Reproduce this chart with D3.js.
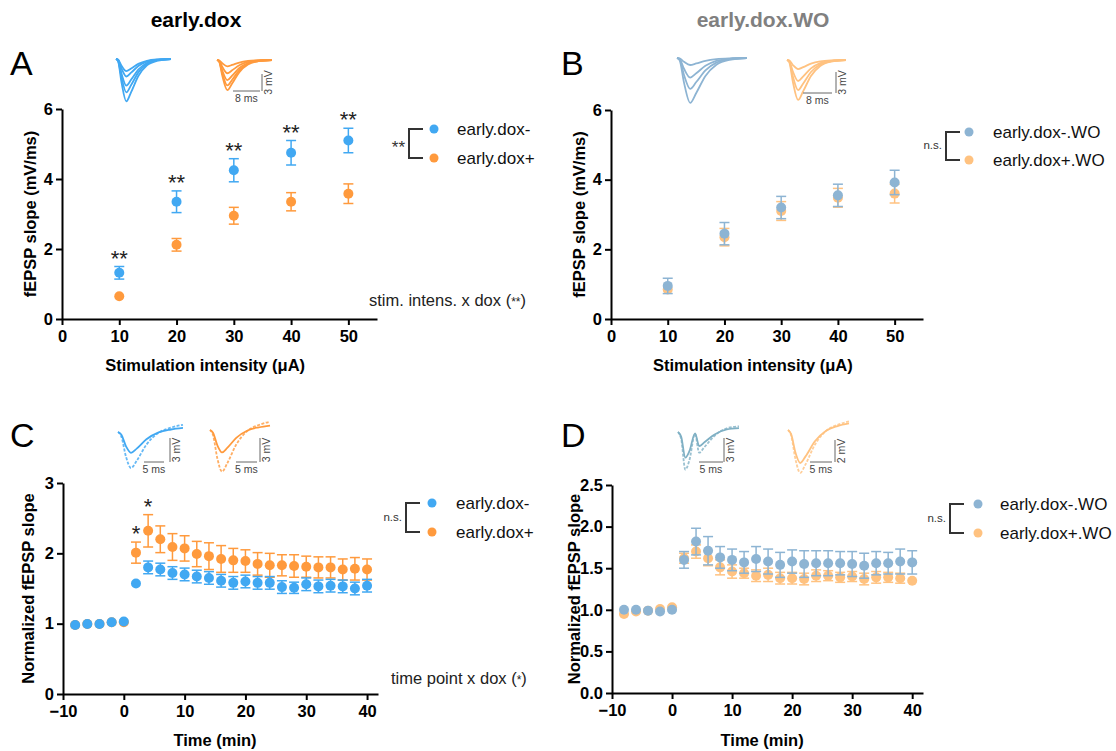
<!DOCTYPE html>
<html lang="en">
<head>
<meta charset="utf-8">
<script src="https://cdn.jsdelivr.net/npm/d3@7"></script>
<style>
  body { margin: 0; background: #fff; }
  text { font-family: "Liberation Sans", Arial, Helvetica, sans-serif; }
</style>
</head>
<body>
<script>
// ---- data ----
const intensity = [10, 20, 30, 40, 50];
const aMinus    = [1.32, 3.35, 4.25, 4.75, 5.10];
const aMinusErr = [0.18, 0.31, 0.33, 0.35, 0.35];
const aPlus     = [0.65, 2.12, 2.95, 3.35, 3.58];
const aPlusErr  = [0.04, 0.18, 0.24, 0.26, 0.28];
const aStars    = ["**", "**", "**", "**", "**"];

const bMinus    = [0.95, 2.45, 3.20, 3.55, 3.92];
const bMinusErr = [0.22, 0.32, 0.32, 0.32, 0.35];
const bPlus     = [0.85, 2.35, 3.10, 3.48, 3.60];
const bPlusErr  = [0.12, 0.25, 0.27, 0.27, 0.27];

const time = [-8, -6, -4, -2, 0, 2, 4, 6, 8, 10, 12, 14, 16, 18, 20, 22, 24, 26, 28, 30, 32, 34, 36, 38, 40];
const cMinus    = [0.98, 0.995, 0.995, 1.02, 1.03, 1.57, 1.80, 1.77, 1.72, 1.70, 1.67, 1.65, 1.61, 1.58, 1.60, 1.58, 1.58, 1.52, 1.51, 1.56, 1.53, 1.54, 1.53, 1.50, 1.54];
const cMinusErr = [0.02, 0.02, 0.02, 0.02, 0.02, 0.03, 0.09, 0.09, 0.09, 0.09, 0.09, 0.09, 0.09, 0.09, 0.09, 0.09, 0.09, 0.09, 0.08, 0.09, 0.09, 0.09, 0.09, 0.09, 0.09];
const cPlus     = [0.98, 0.995, 0.995, 1.02, 1.02, 2.01, 2.32, 2.20, 2.09, 2.07, 1.99, 1.96, 1.92, 1.90, 1.89, 1.85, 1.83, 1.83, 1.82, 1.81, 1.80, 1.80, 1.77, 1.78, 1.77];
const cPlusErr  = [0.02, 0.02, 0.02, 0.02, 0.02, 0.15, 0.23, 0.19, 0.19, 0.18, 0.18, 0.19, 0.19, 0.17, 0.16, 0.16, 0.17, 0.15, 0.16, 0.15, 0.15, 0.15, 0.15, 0.16, 0.15];
const cStars    = ["", "", "", "", "", "*", "*", "", "", "", "", "", "", "", "", "", "", "", "", "", "", "", "", "", ""];

const dMinus    = [1.00, 1.00, 0.99, 0.98, 1.00, 1.60, 1.82, 1.71, 1.63, 1.60, 1.57, 1.61, 1.58, 1.54, 1.58, 1.55, 1.56, 1.56, 1.56, 1.55, 1.53, 1.56, 1.56, 1.58, 1.57];
const dMinusErr = [0.02, 0.02, 0.02, 0.02, 0.02, 0.10, 0.16, 0.17, 0.13, 0.13, 0.13, 0.15, 0.15, 0.15, 0.14, 0.16, 0.15, 0.15, 0.14, 0.15, 0.15, 0.14, 0.13, 0.15, 0.14];
const dPlus     = [0.95, 0.98, 0.99, 1.01, 1.03, 1.62, 1.70, 1.62, 1.51, 1.46, 1.44, 1.41, 1.42, 1.38, 1.38, 1.37, 1.41, 1.41, 1.39, 1.40, 1.37, 1.39, 1.39, 1.38, 1.35];
const dPlusErr  = [0.02, 0.02, 0.02, 0.02, 0.02, 0.06, 0.08, 0.09, 0.09, 0.08, 0.06, 0.07, 0.08, 0.07, 0.07, 0.07, 0.07, 0.06, 0.06, 0.06, 0.07, 0.07, 0.06, 0.06, 0.05];

// example traces: [ms, fraction of peak amplitude (downward)]
const shapeInOut = [[0, 0], [0.6, 0.05], [1.6, 0.55], [3.0, 1], [4.4, 0.78], [6.5, 0.4], [9, 0.15], [12, 0.04], [16, 0]];
const shapeLtp   = [[0, 0], [0.8, 0.12], [2, 0.7], [3.2, 1], [4.6, 0.8], [7, 0.35], [10, 0.02], [13, -0.12], [16, -0.2]];
const shapeVolley = [[0, 0], [0.8, 0.2], [1.8, 1], [2.8, 0.75], [4.2, 0.05], [5.2, 0.55], [6.5, 0.4], [9, 0.1], [12, -0.1], [15, -0.15]];

const blue = "#41a8f2", orange = "#ff9a3d";
const blueWO = "#8db4d3", orangeWO = "#ffc280";

let w = 1116, h = 751;
let svg = d3.select("body").append("svg").attr("width", w).attr("height", h);

// ---- headings ----
svg.append("text").attr("x", 196).attr("y", 27).attr("text-anchor", "middle")
  .attr("font-size", 21).attr("font-weight", "bold").text("early.dox");
svg.append("text").attr("x", 763).attr("y", 27).attr("text-anchor", "middle")
  .attr("font-size", 21).attr("font-weight", "bold").attr("fill", "#808080").text("early.dox.WO");

[["A", 10, 75], ["B", 561, 75], ["C", 10, 447], ["D", 561, 447]].forEach(d => {
  svg.append("text").attr("x", d[1]).attr("y", d[2]).attr("font-size", 34).text(d[0]);
});

function drawPanel(p) {
  let x = d3.scaleLinear().domain(p.xDomain).range(p.xRange);
  let y = d3.scaleLinear().domain(p.yDomain).range(p.yRange);
  let g = svg.append("g");

  let xa = g.append("g").attr("transform", `translate(0,${p.yRange[0]})`)
    .call(d3.axisBottom(x).tickValues(p.xTicks).tickSize(6).tickSizeOuter(0).tickPadding(5));
  let ya = g.append("g").attr("transform", `translate(${p.xRange[0]},0)`)
    .call(d3.axisLeft(y).tickValues(p.yTicks).tickSize(6).tickSizeOuter(0).tickPadding(3)
      .tickFormat(p.yFormat || d3.format("d")));
  [xa, ya].forEach(a => {
    a.selectAll("path,line").attr("stroke", "#000").attr("stroke-width", 2);
    a.selectAll("text").attr("font-size", 16.5).attr("font-weight", "bold").attr("fill", "#000")
      .style("font-family", '"Liberation Sans", Arial, sans-serif');
  });

  p.series.forEach(s => {
    let sg = g.append("g");
    s.values.forEach((v, i) => {
      let cx = x(p.xValues[i]), e = s.err[i];
      if (y(v - e) - y(v + e) > 9) {
        sg.append("line").attr("x1", cx).attr("x2", cx).attr("y1", y(v - e)).attr("y2", y(v + e))
          .attr("stroke", s.color).attr("stroke-width", 1.5);
        [v - e, v + e].forEach(t => sg.append("line").attr("x1", cx - 5).attr("x2", cx + 5)
          .attr("y1", y(t)).attr("y2", y(t)).attr("stroke", s.color).attr("stroke-width", 1.5));
      }
    });
    sg.selectAll("circle").data(s.values).enter().append("circle")
      .attr("cx", (d, i) => x(p.xValues[i])).attr("cy", d => y(d)).attr("r", 5).attr("fill", s.color);
    if (s.stars) {
      s.values.forEach((v, i) => {
        if (!s.stars[i]) return;
        sg.append("text").attr("x", x(p.xValues[i])).attr("y", y(v + s.err[i]) - 1)
          .attr("text-anchor", "middle").attr("font-size", 22).attr("fill", "#222").text(s.stars[i]);
      });
    }
  });

  g.append("text").attr("transform", `translate(${p.yTitleX},${(p.yRange[0] + p.yRange[1]) / 2}) rotate(-90)`)
    .attr("text-anchor", "middle").attr("font-size", 16.5).attr("font-weight", "bold").text(p.yTitle);
  g.append("text").attr("x", (p.xRange[0] + x(p.xTicks[p.xTicks.length - 1])) / 2).attr("y", p.xTitleY)
    .attr("text-anchor", "middle").attr("font-size", 16.5).attr("font-weight", "bold").text(p.xTitle);
}

function legend(l) {
  let g = svg.append("g");
  g.append("path").attr("d", `M${l.bx + 14},${l.y1} H${l.bx} V${l.y2} H${l.bx + 14}`)
    .attr("fill", "none").attr("stroke", "#333").attr("stroke-width", 2);
  l.labels.forEach((t, i) => {
    let yy = i === 0 ? l.y1 : l.y2;
    g.append("circle").attr("cx", l.dx).attr("cy", yy).attr("r", 4.5).attr("fill", l.colors[i]);
    g.append("text").attr("x", l.tx).attr("y", yy + 6).attr("font-size", 17).attr("fill", "#111").text(t);
  });
  g.append("text").attr("x", l.bx - 4).attr("y", (l.y1 + l.y2) / 2 + (l.sig === "**" ? 9 : 3))
    .attr("text-anchor", "end").attr("font-size", l.sig === "**" ? 17 : 11.5).attr("fill", "#333").text(l.sig);
}

function trace(t) {
  let x = d3.scaleLinear().domain([0, 1]).range([t.x0, t.x0 + t.pxMs]);
  let line = d3.line().x(d => x(d[0])).curve(d3.curveMonotoneX);
  t.amps.forEach((a, i) => {
    let yv = d => t.y0 + d[1] * a * t.pxMv;
    svg.append("path").attr("d", line.y(yv)(t.shape)).attr("fill", "none")
      .attr("stroke", t.color).attr("stroke-width", 1.8)
      .attr("stroke-dasharray", t.dash && i === t.amps.length - 1 ? "3,1.5" : null)
      .attr("opacity", t.dash && i === t.amps.length - 1 ? 0.8 : 1);
  });
}

function scaleBar(b) {
  let g = svg.append("g").attr("stroke", "#666").attr("stroke-width", 1);
  g.append("line").attr("x1", b.x1).attr("x2", b.x2).attr("y1", b.y).attr("y2", b.y);
  g.append("line").attr("x1", b.vx).attr("x2", b.vx).attr("y1", b.vy1).attr("y2", b.y);
  svg.append("text").attr("x", (b.x1 + b.x2) / 2).attr("y", b.y + 10.5).attr("text-anchor", "middle")
    .attr("font-size", 10.5).attr("fill", "#444").text(b.ms);
  svg.append("text").attr("transform", `translate(${b.vx + 10},${(b.vy1 + b.y) / 2}) rotate(-90)`)
    .attr("text-anchor", "middle").attr("font-size", 10.5).attr("fill", "#444").text(b.mv);
}

// ---- A ----
drawPanel({
  xDomain: [0, 55], xRange: [62, 377], yDomain: [0, 6], yRange: [319, 109],
  xTicks: [0, 10, 20, 30, 40, 50], yTicks: [0, 2, 4, 6], xValues: intensity,
  yTitle: "fEPSP slope (mV/ms)", yTitleX: 36, xTitle: "Stimulation intensity (\u03bcA)", xTitleY: 371,
  series: [
    {values: aPlus, err: aPlusErr, color: orange},
    {values: aMinus, err: aMinusErr, color: blue, stars: aStars}
  ]
});
// ---- B ----
drawPanel({
  xDomain: [0, 55], xRange: [611, 923], yDomain: [0, 6], yRange: [319, 110],
  xTicks: [0, 10, 20, 30, 40, 50], yTicks: [0, 2, 4, 6], xValues: intensity,
  yTitle: "fEPSP slope (mV/ms)", yTitleX: 585, xTitle: "Stimulation intensity (\u03bcA)", xTitleY: 371,
  series: [
    {values: bPlus, err: bPlusErr, color: orangeWO},
    {values: bMinus, err: bMinusErr, color: blueWO}
  ]
});
// ---- C ----
drawPanel({
  xDomain: [-10, 41.8], xRange: [63, 378], yDomain: [0, 3], yRange: [694, 483],
  xTicks: [-10, 0, 10, 20, 30, 40], yTicks: [0, 1, 2, 3], xValues: time,
  yTitle: "Normalized fEPSP slope", yTitleX: 34, xTitle: "Time (min)", xTitleY: 746,
  series: [
    {values: cPlus, err: cPlusErr, color: orange, stars: cStars},
    {values: cMinus, err: cMinusErr, color: blue}
  ]
});
// ---- D ----
drawPanel({
  xDomain: [-10, 41.8], xRange: [612, 923], yDomain: [0, 2.5], yRange: [693, 485],
  xTicks: [-10, 0, 10, 20, 30, 40], yTicks: [0, 0.5, 1, 1.5, 2, 2.5], xValues: time,
  yFormat: d3.format(".1f"),
  yTitle: "Normalized fEPSP slope", yTitleX: 580, xTitle: "Time (min)", xTitleY: 746,
  series: [
    {values: dPlus, err: dPlusErr, color: orangeWO},
    {values: dMinus, err: dMinusErr, color: blueWO}
  ]
});

// ---- legends ----
legend({bx: 409, y1: 129, y2: 158, dx: 434, tx: 457, labels: ["early.dox-", "early.dox+"], colors: [blue, orange], sig: "**"});
legend({bx: 946, y1: 132, y2: 160, dx: 969, tx: 993, labels: ["early.dox-.WO", "early.dox+.WO"], colors: [blueWO, orangeWO], sig: "n.s."});
legend({bx: 406, y1: 503, y2: 532, dx: 432, tx: 456, labels: ["early.dox-", "early.dox+"], colors: [blue, orange], sig: "n.s."});
legend({bx: 950, y1: 504, y2: 533, dx: 978, tx: 1000, labels: ["early.dox-.WO", "early.dox+.WO"], colors: [blueWO, orangeWO], sig: "n.s."});

let n1 = svg.append("text").attr("x", 369).attr("y", 306).attr("font-size", 16.5).attr("fill", "#222");
n1.append("tspan").text("stim. intens. x dox (");
n1.append("tspan").attr("font-size", 12).text("**");
n1.append("tspan").text(")");
let n2 = svg.append("text").attr("x", 391).attr("y", 684).attr("font-size", 16.5).attr("fill", "#222");
n2.append("tspan").text("time point x dox (");
n2.append("tspan").attr("font-size", 12).text("*");
n2.append("tspan").text(")");

// ---- example traces ----
trace({x0: 116, y0: 59, pxMs: 55, pxMv: 5.3, shape: shapeInOut.map(d => [d[0] / 16, d[1]]), amps: [2.3, 3.3, 5, 6.3, 8], color: blue});
trace({x0: 217, y0: 60, pxMs: 55, pxMv: 5.3, shape: shapeInOut.map(d => [d[0] / 16, d[1]]), amps: [1.2, 2.5, 3.8, 4.8, 5.7], color: orange});
scaleBar({x1: 233, x2: 260, y: 91, vx: 262, vy1: 74, ms: "8 ms", mv: "3 mV"});

trace({x0: 677, y0: 58, pxMs: 70, pxMv: 7, shape: shapeInOut.map(d => [d[0] / 16, d[1]]), amps: [1, 2.8, 4.4, 6.4], color: blueWO});
trace({x0: 787, y0: 60, pxMs: 59, pxMv: 7, shape: shapeInOut.map(d => [d[0] / 16, d[1]]), amps: [1.3, 3.0, 4.3, 5.7], color: orangeWO});
scaleBar({x1: 803, x2: 832, y: 93, vx: 836, vy1: 72, ms: "8 ms", mv: "3 mV"});

trace({x0: 118, y0: 432, pxMs: 65, pxMv: 8, shape: shapeLtp.map(d => [d[0] / 16, d[1]]), amps: [2.6, 4.5], color: blue, dash: true});
scaleBar({x1: 144, x2: 164, y: 462, vx: 170, vy1: 438, ms: "5 ms", mv: "3 mV"});
trace({x0: 210, y0: 430, pxMs: 60, pxMv: 8, shape: shapeLtp.map(d => [d[0] / 16, d[1]]), amps: [2.8, 5.2], color: orange, dash: true});
scaleBar({x1: 236, x2: 257, y: 462, vx: 260, vy1: 438, ms: "5 ms", mv: "3 mV"});

trace({x0: 678, y0: 432, pxMs: 61, pxMv: 8, shape: shapeVolley.map(d => [d[0] / 15, d[1]]), amps: [3.2, 4.7], color: "#7fb0c4", dash: true});
scaleBar({x1: 699, x2: 723, y: 462, vx: 724, vy1: 438, ms: "5 ms", mv: "3 mV"});
trace({x0: 788, y0: 430, pxMs: 61, pxMv: 11, shape: shapeLtp.map(d => [d[0] / 16, d[1]]), amps: [3.0, 3.9], color: orangeWO, dash: true});
scaleBar({x1: 810, x2: 832, y: 462, vx: 835, vy1: 440, ms: "5 ms", mv: "2 mV"});
</script>
</body>
</html>
